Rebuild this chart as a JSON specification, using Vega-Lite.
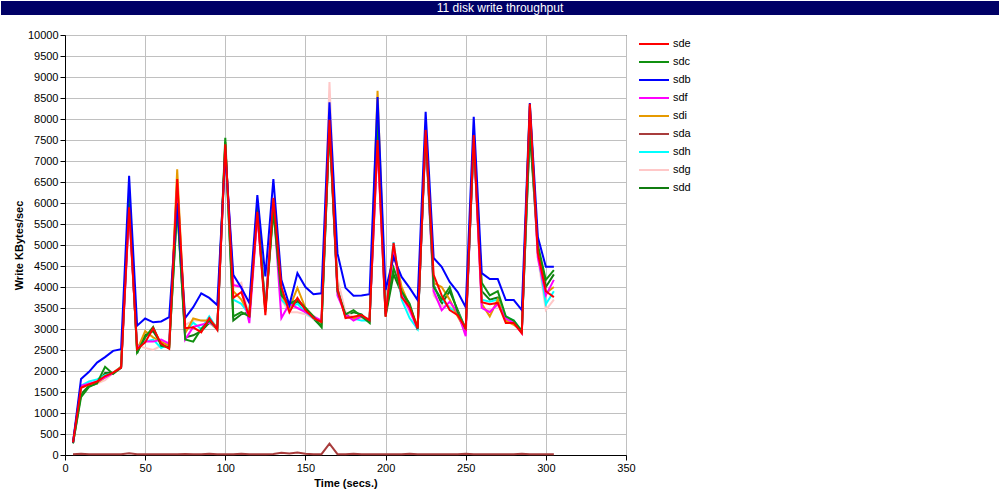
{
"$schema": "https://vega.github.io/schema/vega-lite/v6.json",
"background": "white",
"padding": {"left": 1, "top": 1, "right": 1, "bottom": 1},
"spacing": 13,
"resolve": {"scale": {"color": "independent"}, "legend": {"color": "independent"}},
"config": {
  "view": {"stroke": "black", "strokeWidth": 1},
  "axis": {"domainColor": "black", "tickColor": "black", "gridColor": "#c0c0c0", "gridWidth": 1, "labelFont": "Liberation Sans", "labelFontSize": 11, "labelColor": "black", "titleFont": "Liberation Sans", "titleFontSize": 11, "titleFontWeight": "bold", "titleColor": "black", "tickSize": 5, "labelPadding": 2, "labelFlush": false, "labelOverlap": false, "grid": true}
},
"vconcat": [
{
  "width": 998, "height": 14,
  "view": {"fill": "#000066", "stroke": null},
  "data": {"values": [{}]},
  "mark": {"type": "text", "color": "white", "font": "Liberation Sans", "fontSize": 12},
  "encoding": {"text": {"value": "11 disk write throughput"}}
},
{
"spacing": 0,
"resolve": {"scale": {"color": "independent"}, "legend": {"color": "independent"}},
"hconcat": [
{
  "width": 1, "height": 420,
  "view": {"stroke": null},
  "data": {"values": [{}]},
  "mark": {"type": "text"},
  "encoding": {"text": {"value": ""}}
},
{
  "width": 561, "height": 420,
  "data": {"values": [
{"t":5,"d":"sdd","v":280},{"t":10,"d":"sdd","v":1450},{"t":15,"d":"sdd","v":1650},{"t":20,"d":"sdd","v":1700},{"t":25,"d":"sdd","v":1950},{"t":30,"d":"sdd","v":1950},{"t":35,"d":"sdd","v":2100},{"t":40,"d":"sdd","v":6100},{"t":45,"d":"sdd","v":2420},{"t":50,"d":"sdd","v":2850},{"t":55,"d":"sdd","v":2950},{"t":60,"d":"sdd","v":2650},{"t":65,"d":"sdd","v":2580},{"t":70,"d":"sdd","v":5950},{"t":75,"d":"sdd","v":2800},{"t":80,"d":"sdd","v":2850},{"t":85,"d":"sdd","v":2950},{"t":90,"d":"sdd","v":3150},{"t":95,"d":"sdd","v":3000},{"t":100,"d":"sdd","v":7450},{"t":105,"d":"sdd","v":3200},{"t":110,"d":"sdd","v":3350},{"t":115,"d":"sdd","v":3400},{"t":120,"d":"sdd","v":5900},{"t":125,"d":"sdd","v":3450},{"t":130,"d":"sdd","v":5900},{"t":135,"d":"sdd","v":3850},{"t":140,"d":"sdd","v":3550},{"t":145,"d":"sdd","v":3650},{"t":150,"d":"sdd","v":3500},{"t":155,"d":"sdd","v":3250},{"t":160,"d":"sdd","v":3050},{"t":165,"d":"sdd","v":7850},{"t":170,"d":"sdd","v":3950},{"t":175,"d":"sdd","v":3300},{"t":180,"d":"sdd","v":3400},{"t":185,"d":"sdd","v":3350},{"t":190,"d":"sdd","v":3150},{"t":195,"d":"sdd","v":7900},{"t":200,"d":"sdd","v":3300},{"t":205,"d":"sdd","v":4300},{"t":210,"d":"sdd","v":3850},{"t":215,"d":"sdd","v":3550},{"t":220,"d":"sdd","v":2980},{"t":225,"d":"sdd","v":7650},{"t":230,"d":"sdd","v":4050},{"t":235,"d":"sdd","v":3600},{"t":240,"d":"sdd","v":3900},{"t":245,"d":"sdd","v":3450},{"t":250,"d":"sdd","v":3000},{"t":255,"d":"sdd","v":7450},{"t":260,"d":"sdd","v":3900},{"t":265,"d":"sdd","v":3700},{"t":270,"d":"sdd","v":3750},{"t":275,"d":"sdd","v":3250},{"t":280,"d":"sdd","v":3150},{"t":285,"d":"sdd","v":2950},{"t":290,"d":"sdd","v":7700},{"t":295,"d":"sdd","v":4900},{"t":300,"d":"sdd","v":4000},{"t":305,"d":"sdd","v":4300},
{"t":5,"d":"sdg","v":290},{"t":10,"d":"sdg","v":1620},{"t":15,"d":"sdg","v":1700},{"t":20,"d":"sdg","v":1700},{"t":25,"d":"sdg","v":1780},{"t":30,"d":"sdg","v":1950},{"t":35,"d":"sdg","v":2100},{"t":40,"d":"sdg","v":5850},{"t":45,"d":"sdg","v":2600},{"t":50,"d":"sdg","v":2550},{"t":55,"d":"sdg","v":2500},{"t":60,"d":"sdg","v":2600},{"t":65,"d":"sdg","v":2650},{"t":70,"d":"sdg","v":6450},{"t":75,"d":"sdg","v":3100},{"t":80,"d":"sdg","v":3200},{"t":85,"d":"sdg","v":3200},{"t":90,"d":"sdg","v":3150},{"t":95,"d":"sdg","v":3000},{"t":100,"d":"sdg","v":7300},{"t":105,"d":"sdg","v":4000},{"t":110,"d":"sdg","v":4100},{"t":115,"d":"sdg","v":3250},{"t":120,"d":"sdg","v":5700},{"t":125,"d":"sdg","v":3500},{"t":130,"d":"sdg","v":6000},{"t":135,"d":"sdg","v":3700},{"t":140,"d":"sdg","v":3400},{"t":145,"d":"sdg","v":3400},{"t":150,"d":"sdg","v":3350},{"t":155,"d":"sdg","v":3250},{"t":160,"d":"sdg","v":3200},{"t":165,"d":"sdg","v":8880},{"t":170,"d":"sdg","v":4200},{"t":175,"d":"sdg","v":3400},{"t":180,"d":"sdg","v":3300},{"t":185,"d":"sdg","v":3250},{"t":190,"d":"sdg","v":3250},{"t":195,"d":"sdg","v":7450},{"t":200,"d":"sdg","v":3350},{"t":205,"d":"sdg","v":4800},{"t":210,"d":"sdg","v":3800},{"t":215,"d":"sdg","v":3400},{"t":220,"d":"sdg","v":3050},{"t":225,"d":"sdg","v":7650},{"t":230,"d":"sdg","v":3800},{"t":235,"d":"sdg","v":3550},{"t":240,"d":"sdg","v":3550},{"t":245,"d":"sdg","v":3300},{"t":250,"d":"sdg","v":3000},{"t":255,"d":"sdg","v":7550},{"t":260,"d":"sdg","v":3500},{"t":265,"d":"sdg","v":3450},{"t":270,"d":"sdg","v":3550},{"t":275,"d":"sdg","v":3250},{"t":280,"d":"sdg","v":3200},{"t":285,"d":"sdg","v":2950},{"t":290,"d":"sdg","v":8250},{"t":295,"d":"sdg","v":4700},{"t":300,"d":"sdg","v":3450},{"t":305,"d":"sdg","v":3700},
{"t":5,"d":"sdh","v":290},{"t":10,"d":"sdh","v":1650},{"t":15,"d":"sdh","v":1750},{"t":20,"d":"sdh","v":1800},{"t":25,"d":"sdh","v":1900},{"t":30,"d":"sdh","v":1950},{"t":35,"d":"sdh","v":2100},{"t":40,"d":"sdh","v":5900},{"t":45,"d":"sdh","v":2600},{"t":50,"d":"sdh","v":2700},{"t":55,"d":"sdh","v":2750},{"t":60,"d":"sdh","v":2550},{"t":65,"d":"sdh","v":2650},{"t":70,"d":"sdh","v":6500},{"t":75,"d":"sdh","v":2950},{"t":80,"d":"sdh","v":3150},{"t":85,"d":"sdh","v":3000},{"t":90,"d":"sdh","v":3300},{"t":95,"d":"sdh","v":3000},{"t":100,"d":"sdh","v":7350},{"t":105,"d":"sdh","v":3700},{"t":110,"d":"sdh","v":3600},{"t":115,"d":"sdh","v":3350},{"t":120,"d":"sdh","v":5800},{"t":125,"d":"sdh","v":3500},{"t":130,"d":"sdh","v":6050},{"t":135,"d":"sdh","v":3700},{"t":140,"d":"sdh","v":3500},{"t":145,"d":"sdh","v":3600},{"t":150,"d":"sdh","v":3400},{"t":155,"d":"sdh","v":3250},{"t":160,"d":"sdh","v":3150},{"t":165,"d":"sdh","v":8000},{"t":170,"d":"sdh","v":3950},{"t":175,"d":"sdh","v":3300},{"t":180,"d":"sdh","v":3250},{"t":185,"d":"sdh","v":3200},{"t":190,"d":"sdh","v":3200},{"t":195,"d":"sdh","v":7600},{"t":200,"d":"sdh","v":3350},{"t":205,"d":"sdh","v":5070},{"t":210,"d":"sdh","v":3700},{"t":215,"d":"sdh","v":3260},{"t":220,"d":"sdh","v":3000},{"t":225,"d":"sdh","v":7700},{"t":230,"d":"sdh","v":4000},{"t":235,"d":"sdh","v":3700},{"t":240,"d":"sdh","v":3500},{"t":245,"d":"sdh","v":3400},{"t":250,"d":"sdh","v":3000},{"t":255,"d":"sdh","v":7600},{"t":260,"d":"sdh","v":3700},{"t":265,"d":"sdh","v":3650},{"t":270,"d":"sdh","v":3700},{"t":275,"d":"sdh","v":3300},{"t":280,"d":"sdh","v":3200},{"t":285,"d":"sdh","v":2950},{"t":290,"d":"sdh","v":8300},{"t":295,"d":"sdh","v":4800},{"t":300,"d":"sdh","v":3590},{"t":305,"d":"sdh","v":3900},
{"t":5,"d":"sda","v":20},{"t":10,"d":"sda","v":30},{"t":15,"d":"sda","v":20},{"t":20,"d":"sda","v":20},{"t":25,"d":"sda","v":20},{"t":30,"d":"sda","v":20},{"t":35,"d":"sda","v":20},{"t":40,"d":"sda","v":40},{"t":45,"d":"sda","v":20},{"t":50,"d":"sda","v":20},{"t":55,"d":"sda","v":20},{"t":60,"d":"sda","v":20},{"t":65,"d":"sda","v":20},{"t":70,"d":"sda","v":20},{"t":75,"d":"sda","v":25},{"t":80,"d":"sda","v":20},{"t":85,"d":"sda","v":20},{"t":90,"d":"sda","v":30},{"t":95,"d":"sda","v":20},{"t":100,"d":"sda","v":20},{"t":105,"d":"sda","v":20},{"t":110,"d":"sda","v":30},{"t":115,"d":"sda","v":20},{"t":120,"d":"sda","v":20},{"t":125,"d":"sda","v":20},{"t":130,"d":"sda","v":25},{"t":135,"d":"sda","v":55},{"t":140,"d":"sda","v":35},{"t":145,"d":"sda","v":60},{"t":150,"d":"sda","v":30},{"t":155,"d":"sda","v":20},{"t":160,"d":"sda","v":20},{"t":165,"d":"sda","v":270},{"t":170,"d":"sda","v":20},{"t":175,"d":"sda","v":20},{"t":180,"d":"sda","v":30},{"t":185,"d":"sda","v":20},{"t":190,"d":"sda","v":20},{"t":195,"d":"sda","v":20},{"t":200,"d":"sda","v":20},{"t":205,"d":"sda","v":20},{"t":210,"d":"sda","v":20},{"t":215,"d":"sda","v":30},{"t":220,"d":"sda","v":20},{"t":225,"d":"sda","v":20},{"t":230,"d":"sda","v":20},{"t":235,"d":"sda","v":20},{"t":240,"d":"sda","v":20},{"t":245,"d":"sda","v":20},{"t":250,"d":"sda","v":30},{"t":255,"d":"sda","v":20},{"t":260,"d":"sda","v":20},{"t":265,"d":"sda","v":20},{"t":270,"d":"sda","v":20},{"t":275,"d":"sda","v":20},{"t":280,"d":"sda","v":20},{"t":285,"d":"sda","v":30},{"t":290,"d":"sda","v":20},{"t":295,"d":"sda","v":20},{"t":300,"d":"sda","v":20},{"t":305,"d":"sda","v":20},
{"t":5,"d":"sdi","v":290},{"t":10,"d":"sdi","v":1600},{"t":15,"d":"sdi","v":1680},{"t":20,"d":"sdi","v":1720},{"t":25,"d":"sdi","v":1850},{"t":30,"d":"sdi","v":1950},{"t":35,"d":"sdi","v":2100},{"t":40,"d":"sdi","v":5950},{"t":45,"d":"sdi","v":2500},{"t":50,"d":"sdi","v":2950},{"t":55,"d":"sdi","v":2800},{"t":60,"d":"sdi","v":2700},{"t":65,"d":"sdi","v":2600},{"t":70,"d":"sdi","v":6800},{"t":75,"d":"sdi","v":2900},{"t":80,"d":"sdi","v":3250},{"t":85,"d":"sdi","v":3200},{"t":90,"d":"sdi","v":3200},{"t":95,"d":"sdi","v":3050},{"t":100,"d":"sdi","v":7350},{"t":105,"d":"sdi","v":3900},{"t":110,"d":"sdi","v":3700},{"t":115,"d":"sdi","v":3350},{"t":120,"d":"sdi","v":5800},{"t":125,"d":"sdi","v":3400},{"t":130,"d":"sdi","v":5950},{"t":135,"d":"sdi","v":3800},{"t":140,"d":"sdi","v":3500},{"t":145,"d":"sdi","v":3980},{"t":150,"d":"sdi","v":3500},{"t":155,"d":"sdi","v":3300},{"t":160,"d":"sdi","v":3150},{"t":165,"d":"sdi","v":8000},{"t":170,"d":"sdi","v":3900},{"t":175,"d":"sdi","v":3300},{"t":180,"d":"sdi","v":3250},{"t":185,"d":"sdi","v":3300},{"t":190,"d":"sdi","v":3200},{"t":195,"d":"sdi","v":8670},{"t":200,"d":"sdi","v":3400},{"t":205,"d":"sdi","v":4900},{"t":210,"d":"sdi","v":4000},{"t":215,"d":"sdi","v":3550},{"t":220,"d":"sdi","v":3050},{"t":225,"d":"sdi","v":7700},{"t":230,"d":"sdi","v":4100},{"t":235,"d":"sdi","v":4000},{"t":240,"d":"sdi","v":3700},{"t":245,"d":"sdi","v":3300},{"t":250,"d":"sdi","v":2950},{"t":255,"d":"sdi","v":7600},{"t":260,"d":"sdi","v":3600},{"t":265,"d":"sdi","v":3300},{"t":270,"d":"sdi","v":3700},{"t":275,"d":"sdi","v":3200},{"t":280,"d":"sdi","v":3100},{"t":285,"d":"sdi","v":2950},{"t":290,"d":"sdi","v":8300},{"t":295,"d":"sdi","v":4800},{"t":300,"d":"sdi","v":3850},{"t":305,"d":"sdi","v":4000},
{"t":5,"d":"sdf","v":290},{"t":10,"d":"sdf","v":1650},{"t":15,"d":"sdf","v":1700},{"t":20,"d":"sdf","v":1750},{"t":25,"d":"sdf","v":1850},{"t":30,"d":"sdf","v":1950},{"t":35,"d":"sdf","v":2080},{"t":40,"d":"sdf","v":5800},{"t":45,"d":"sdf","v":2550},{"t":50,"d":"sdf","v":2700},{"t":55,"d":"sdf","v":2700},{"t":60,"d":"sdf","v":2750},{"t":65,"d":"sdf","v":2650},{"t":70,"d":"sdf","v":6400},{"t":75,"d":"sdf","v":2750},{"t":80,"d":"sdf","v":3050},{"t":85,"d":"sdf","v":3100},{"t":90,"d":"sdf","v":3150},{"t":95,"d":"sdf","v":3050},{"t":100,"d":"sdf","v":7300},{"t":105,"d":"sdf","v":4050},{"t":110,"d":"sdf","v":4000},{"t":115,"d":"sdf","v":3140},{"t":120,"d":"sdf","v":5700},{"t":125,"d":"sdf","v":3500},{"t":130,"d":"sdf","v":6000},{"t":135,"d":"sdf","v":3260},{"t":140,"d":"sdf","v":3600},{"t":145,"d":"sdf","v":3500},{"t":150,"d":"sdf","v":3400},{"t":155,"d":"sdf","v":3300},{"t":160,"d":"sdf","v":3200},{"t":165,"d":"sdf","v":7900},{"t":170,"d":"sdf","v":3800},{"t":175,"d":"sdf","v":3350},{"t":180,"d":"sdf","v":3200},{"t":185,"d":"sdf","v":3300},{"t":190,"d":"sdf","v":3200},{"t":195,"d":"sdf","v":7400},{"t":200,"d":"sdf","v":3350},{"t":205,"d":"sdf","v":4900},{"t":210,"d":"sdf","v":3800},{"t":215,"d":"sdf","v":3450},{"t":220,"d":"sdf","v":3000},{"t":225,"d":"sdf","v":7600},{"t":230,"d":"sdf","v":3900},{"t":235,"d":"sdf","v":3450},{"t":240,"d":"sdf","v":3650},{"t":245,"d":"sdf","v":3400},{"t":250,"d":"sdf","v":2830},{"t":255,"d":"sdf","v":7550},{"t":260,"d":"sdf","v":3500},{"t":265,"d":"sdf","v":3400},{"t":270,"d":"sdf","v":3600},{"t":275,"d":"sdf","v":3250},{"t":280,"d":"sdf","v":3150},{"t":285,"d":"sdf","v":2900},{"t":290,"d":"sdf","v":8200},{"t":295,"d":"sdf","v":4700},{"t":300,"d":"sdf","v":3800},{"t":305,"d":"sdf","v":4170},
{"t":5,"d":"sdc","v":280},{"t":10,"d":"sdc","v":1380},{"t":15,"d":"sdc","v":1620},{"t":20,"d":"sdc","v":1710},{"t":25,"d":"sdc","v":2100},{"t":30,"d":"sdc","v":1930},{"t":35,"d":"sdc","v":2080},{"t":40,"d":"sdc","v":6170},{"t":45,"d":"sdc","v":2450},{"t":50,"d":"sdc","v":2800},{"t":55,"d":"sdc","v":3050},{"t":60,"d":"sdc","v":2600},{"t":65,"d":"sdc","v":2560},{"t":70,"d":"sdc","v":5900},{"t":75,"d":"sdc","v":2750},{"t":80,"d":"sdc","v":2700},{"t":85,"d":"sdc","v":3000},{"t":90,"d":"sdc","v":3200},{"t":95,"d":"sdc","v":3000},{"t":100,"d":"sdc","v":7550},{"t":105,"d":"sdc","v":3300},{"t":110,"d":"sdc","v":3400},{"t":115,"d":"sdc","v":3300},{"t":120,"d":"sdc","v":6000},{"t":125,"d":"sdc","v":3450},{"t":130,"d":"sdc","v":5800},{"t":135,"d":"sdc","v":3800},{"t":140,"d":"sdc","v":3600},{"t":145,"d":"sdc","v":3700},{"t":150,"d":"sdc","v":3500},{"t":155,"d":"sdc","v":3300},{"t":160,"d":"sdc","v":3050},{"t":165,"d":"sdc","v":7800},{"t":170,"d":"sdc","v":3900},{"t":175,"d":"sdc","v":3350},{"t":180,"d":"sdc","v":3450},{"t":185,"d":"sdc","v":3300},{"t":190,"d":"sdc","v":3150},{"t":195,"d":"sdc","v":8100},{"t":200,"d":"sdc","v":3350},{"t":205,"d":"sdc","v":4450},{"t":210,"d":"sdc","v":3900},{"t":215,"d":"sdc","v":3600},{"t":220,"d":"sdc","v":3000},{"t":225,"d":"sdc","v":7700},{"t":230,"d":"sdc","v":4000},{"t":235,"d":"sdc","v":3700},{"t":240,"d":"sdc","v":4000},{"t":245,"d":"sdc","v":3400},{"t":250,"d":"sdc","v":3000},{"t":255,"d":"sdc","v":7500},{"t":260,"d":"sdc","v":4100},{"t":265,"d":"sdc","v":3800},{"t":270,"d":"sdc","v":3900},{"t":275,"d":"sdc","v":3300},{"t":280,"d":"sdc","v":3200},{"t":285,"d":"sdc","v":2950},{"t":290,"d":"sdc","v":7810},{"t":295,"d":"sdc","v":5000},{"t":300,"d":"sdc","v":4170},{"t":305,"d":"sdc","v":4400},
{"t":5,"d":"sdb","v":300},{"t":10,"d":"sdb","v":1810},{"t":15,"d":"sdb","v":1980},{"t":20,"d":"sdb","v":2200},{"t":25,"d":"sdb","v":2330},{"t":30,"d":"sdb","v":2480},{"t":35,"d":"sdb","v":2520},{"t":40,"d":"sdb","v":6650},{"t":45,"d":"sdb","v":3080},{"t":50,"d":"sdb","v":3250},{"t":55,"d":"sdb","v":3160},{"t":60,"d":"sdb","v":3180},{"t":65,"d":"sdb","v":3280},{"t":70,"d":"sdb","v":6000},{"t":75,"d":"sdb","v":3260},{"t":80,"d":"sdb","v":3520},{"t":85,"d":"sdb","v":3850},{"t":90,"d":"sdb","v":3740},{"t":95,"d":"sdb","v":3570},{"t":100,"d":"sdb","v":7200},{"t":105,"d":"sdb","v":4290},{"t":110,"d":"sdb","v":3980},{"t":115,"d":"sdb","v":3620},{"t":120,"d":"sdb","v":6190},{"t":125,"d":"sdb","v":4250},{"t":130,"d":"sdb","v":6570},{"t":135,"d":"sdb","v":4170},{"t":140,"d":"sdb","v":3570},{"t":145,"d":"sdb","v":4330},{"t":150,"d":"sdb","v":4000},{"t":155,"d":"sdb","v":3830},{"t":160,"d":"sdb","v":3850},{"t":165,"d":"sdb","v":8400},{"t":170,"d":"sdb","v":4800},{"t":175,"d":"sdb","v":3980},{"t":180,"d":"sdb","v":3790},{"t":185,"d":"sdb","v":3800},{"t":190,"d":"sdb","v":3830},{"t":195,"d":"sdb","v":8520},{"t":200,"d":"sdb","v":3930},{"t":205,"d":"sdb","v":4710},{"t":210,"d":"sdb","v":4240},{"t":215,"d":"sdb","v":3980},{"t":220,"d":"sdb","v":3690},{"t":225,"d":"sdb","v":8170},{"t":230,"d":"sdb","v":4690},{"t":235,"d":"sdb","v":4480},{"t":240,"d":"sdb","v":4120},{"t":245,"d":"sdb","v":3880},{"t":250,"d":"sdb","v":3520},{"t":255,"d":"sdb","v":8050},{"t":260,"d":"sdb","v":4330},{"t":265,"d":"sdb","v":4190},{"t":270,"d":"sdb","v":4190},{"t":275,"d":"sdb","v":3690},{"t":280,"d":"sdb","v":3690},{"t":285,"d":"sdb","v":3450},{"t":290,"d":"sdb","v":8380},{"t":295,"d":"sdb","v":5190},{"t":300,"d":"sdb","v":4480},{"t":305,"d":"sdb","v":4480},
{"t":5,"d":"sde","v":300},{"t":10,"d":"sde","v":1600},{"t":15,"d":"sde","v":1680},{"t":20,"d":"sde","v":1750},{"t":25,"d":"sde","v":1880},{"t":30,"d":"sde","v":1960},{"t":35,"d":"sde","v":2080},{"t":40,"d":"sde","v":5900},{"t":45,"d":"sde","v":2520},{"t":50,"d":"sde","v":2680},{"t":55,"d":"sde","v":3020},{"t":60,"d":"sde","v":2650},{"t":65,"d":"sde","v":2530},{"t":70,"d":"sde","v":6570},{"t":75,"d":"sde","v":3020},{"t":80,"d":"sde","v":3040},{"t":85,"d":"sde","v":2920},{"t":90,"d":"sde","v":3260},{"t":95,"d":"sde","v":2980},{"t":100,"d":"sde","v":7400},{"t":105,"d":"sde","v":3740},{"t":110,"d":"sde","v":3880},{"t":115,"d":"sde","v":3290},{"t":120,"d":"sde","v":5790},{"t":125,"d":"sde","v":3330},{"t":130,"d":"sde","v":6120},{"t":135,"d":"sde","v":4000},{"t":140,"d":"sde","v":3400},{"t":145,"d":"sde","v":3740},{"t":150,"d":"sde","v":3450},{"t":155,"d":"sde","v":3260},{"t":160,"d":"sde","v":3170},{"t":165,"d":"sde","v":7980},{"t":170,"d":"sde","v":3950},{"t":175,"d":"sde","v":3260},{"t":180,"d":"sde","v":3290},{"t":185,"d":"sde","v":3330},{"t":190,"d":"sde","v":3210},{"t":195,"d":"sde","v":7500},{"t":200,"d":"sde","v":3290},{"t":205,"d":"sde","v":5050},{"t":210,"d":"sde","v":3760},{"t":215,"d":"sde","v":3520},{"t":220,"d":"sde","v":3020},{"t":225,"d":"sde","v":7740},{"t":230,"d":"sde","v":4290},{"t":235,"d":"sde","v":3800},{"t":240,"d":"sde","v":3450},{"t":245,"d":"sde","v":3330},{"t":250,"d":"sde","v":3020},{"t":255,"d":"sde","v":7620},{"t":260,"d":"sde","v":3640},{"t":265,"d":"sde","v":3590},{"t":270,"d":"sde","v":3620},{"t":275,"d":"sde","v":3140},{"t":280,"d":"sde","v":3140},{"t":285,"d":"sde","v":2900},{"t":290,"d":"sde","v":8360},{"t":295,"d":"sde","v":4810},{"t":300,"d":"sde","v":3900},{"t":305,"d":"sde","v":3760}
  ]},
  "mark": {"type": "line", "strokeWidth": 2},
  "encoding": {
    "x": {"field": "t", "type": "quantitative", "scale": {"domain": [0, 350], "nice": false, "zero": false},
          "axis": {"values": [0, 50, 100, 150, 200, 250, 300, 350], "title": "Time (secs.)", "titlePadding": 4}},
    "y": {"field": "v", "type": "quantitative", "scale": {"domain": [0, 10000], "nice": false},
          "axis": {"values": [0, 500, 1000, 1500, 2000, 2500, 3000, 3500, 4000, 4500, 5000, 5500, 6000, 6500, 7000, 7500, 8000, 8500, 9000, 9500, 10000], "format": "d", "title": ["", "Write KBytes/sec"], "titlePadding": 3, "titleLineHeight": 10.7}},
    "color": {"field": "d", "type": "nominal",
      "scale": {"domain": ["sde", "sdc", "sdb", "sdf", "sdi", "sda", "sdh", "sdg", "sdd"],
                "range": ["#ff0000", "#109010", "#0000ff", "#ff00ff", "#e69a00", "#a83c3c", "#00ffff", "#ffc8c8", "#107c10"]},
      "legend": {"title": null, "orient": "right", "offset": 19, "padding": 3, "symbolType": "M-3,0L3,0", "symbolSize": 100, "symbolStrokeWidth": 2, "labelFont": "Liberation Sans", "labelFontSize": 11, "labelColor": "black", "labelOffset": 13, "rowPadding": 7}}
  }
}
]
}
]
}
